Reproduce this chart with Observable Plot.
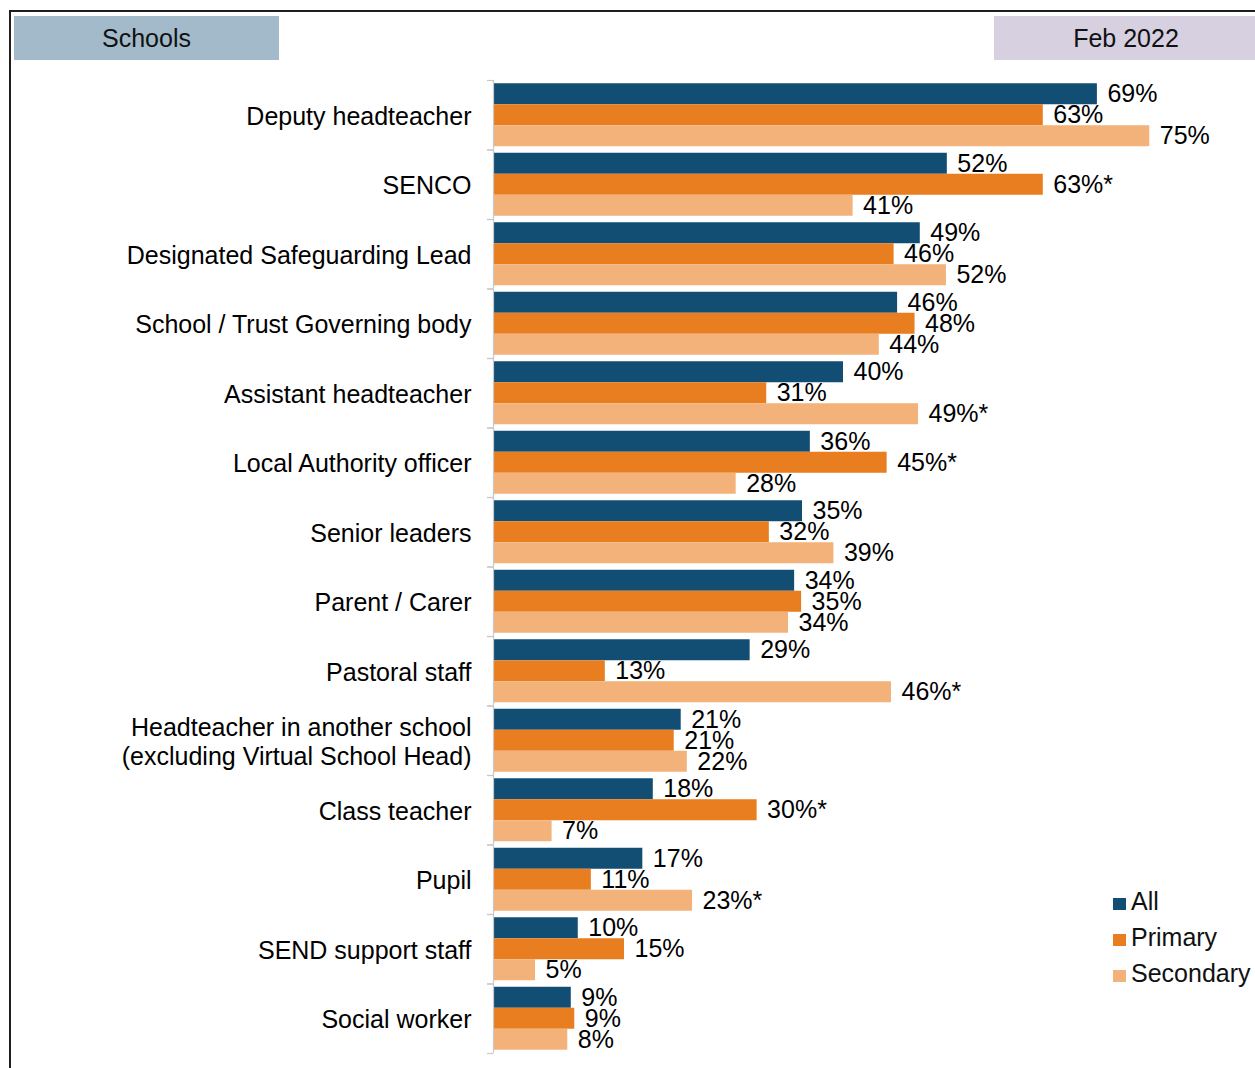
<!DOCTYPE html>
<html>
<head>
<meta charset="utf-8">
<script src="https://cdn.jsdelivr.net/npm/d3@7"></script>
<script src="https://cdn.jsdelivr.net/npm/@observablehq/plot@0.6"></script>
<style>
  html, body { margin: 0; padding: 0; background: #fff; overflow: hidden; }
  body { width: 1255px; height: 1068px; position: relative; font-family: "Liberation Sans", Arial, sans-serif; }
  #frame { position: absolute; left: 9px; top: 10px; width: 1400px; height: 1200px; border-top: 2px solid #1e1e1e; border-left: 2px solid #1e1e1e; }
  .hdr { position: absolute; top: 16px; height: 44px; line-height: 44px; text-align: center; font-size: 25px; color: #111; }
  #schools { left: 14px; width: 265px; background: #a2bac9; }
  #date { left: 994px; width: 264px; background: #d6d0e1; }
  #chart { position: absolute; left: 0; top: 0; }
  #legend { position: absolute; left: 1113px; top: 883px; font-size: 25px; color: #111; }
  #legend div { height: 36px; line-height: 36px; white-space: nowrap; }
  #legend span { display: inline-block; width: 13px; height: 12px; margin-right: 5px; vertical-align: 0px; }
</style>
</head>
<body>
<div id="frame"></div>
<div class="hdr" id="schools">Schools</div>
<div class="hdr" id="date">Feb 2022</div>
<div id="chart"></div>
<div id="legend"></div>
<script>
const categories = [
  "Deputy headteacher",
  "SENCO",
  "Designated Safeguarding Lead",
  "School / Trust Governing body",
  "Assistant headteacher",
  "Local Authority officer",
  "Senior leaders",
  "Parent / Carer",
  "Pastoral staff",
  "Headteacher in another school\n(excluding Virtual School Head)",
  "Class teacher",
  "Pupil",
  "SEND support staff",
  "Social worker"
];
const seriesNames = ["All", "Primary", "Secondary"];
const seriesColors = ["#124e73", "#e87e1f", "#f2b27a"];

const allValues       = [69.1, 51.9, 48.8, 46.2, 40.0, 36.2, 35.3, 34.4, 29.3, 21.4, 18.2, 17.0, 9.6, 8.8];
const primaryValues   = [62.9, 62.9, 45.8, 48.2, 31.2, 45.0, 31.5, 35.2, 12.7, 20.6, 30.1, 11.1, 14.9, 9.2];
const secondaryValues = [75.1, 41.1, 51.8, 44.1, 48.6, 27.7, 38.9, 33.7, 45.5, 22.1, 6.6, 22.7, 4.7, 8.4];

const allLabels       = ["69%", "52%", "49%", "46%", "40%", "36%", "35%", "34%", "29%", "21%", "18%", "17%", "10%", "9%"];
const primaryLabels   = ["63%", "63%*", "46%", "48%", "31%", "45%*", "32%", "35%", "13%", "21%", "30%*", "11%", "15%", "9%"];
const secondaryLabels = ["75%", "41%", "52%", "44%", "49%*", "28%", "39%", "34%", "46%*", "22%", "7%", "23%*", "5%", "8%"];

const valueSets = [allValues, primaryValues, secondaryValues];
const labelSets = [allLabels, primaryLabels, secondaryLabels];
const rows = [];
categories.forEach((c, i) => {
  seriesNames.forEach((s, j) => {
    rows.push({category: c, series: s, value: valueSets[j][i], label: labelSets[j][i]});
  });
});

const H = 1068, MT = 80, MB = 15;
const facetH = (H - MT - MB) / categories.length;
const pOuter = 0.155;
const step = facetH / (seriesNames.length + 2 * pOuter);
const edge = step / 2 + pOuter * step;

const chart = Plot.plot({
  width: 1255,
  height: H,
  marginTop: MT,
  marginBottom: MB,
  marginLeft: 494,
  marginRight: 63,
  style: {background: "transparent", fontFamily: "Liberation Sans, Arial, sans-serif", color: "#000", overflow: "visible"},
  x: {domain: [0, 80], axis: null},
  y: {domain: seriesNames, paddingInner: 0, paddingOuter: pOuter, round: false, axis: null},
  fy: {domain: categories, padding: 0, round: false, label: null},
  color: {domain: seriesNames, range: seriesColors},
  marks: [
    Plot.axisFy({anchor: "left", tickSize: 0, tickPadding: 23, fontSize: 25, lineHeight: 1.16, label: null, fill: "#000"}),
    Plot.barX(rows, {x: "value", y: "series", fy: "category", fill: "series"}),
    Plot.ruleX([0], {stroke: "#c8c8c8", strokeWidth: 1.2, dx: -1}),
    Plot.ruleY(["All"], {y: d => d, x1: -0.8, x2: -0.1, stroke: "#c8c8c8", strokeWidth: 1.2, dy: -edge}),
    Plot.ruleY(["Secondary"], {y: d => d, x1: -0.8, x2: -0.1, stroke: "#c8c8c8", strokeWidth: 1.2, dy: edge}),
    Plot.text(rows, {x: "value", y: "series", fy: "category", text: "label", textAnchor: "start", dx: 10, fontSize: 25, fill: "#000"})
  ]
});
document.getElementById("chart").appendChild(chart);

const legend = document.getElementById("legend");
seriesNames.forEach((s, j) => {
  const row = document.createElement("div");
  const sw = document.createElement("span");
  sw.style.background = seriesColors[j];
  row.appendChild(sw);
  row.appendChild(document.createTextNode(s));
  legend.appendChild(row);
});
</script>
</body>
</html>
